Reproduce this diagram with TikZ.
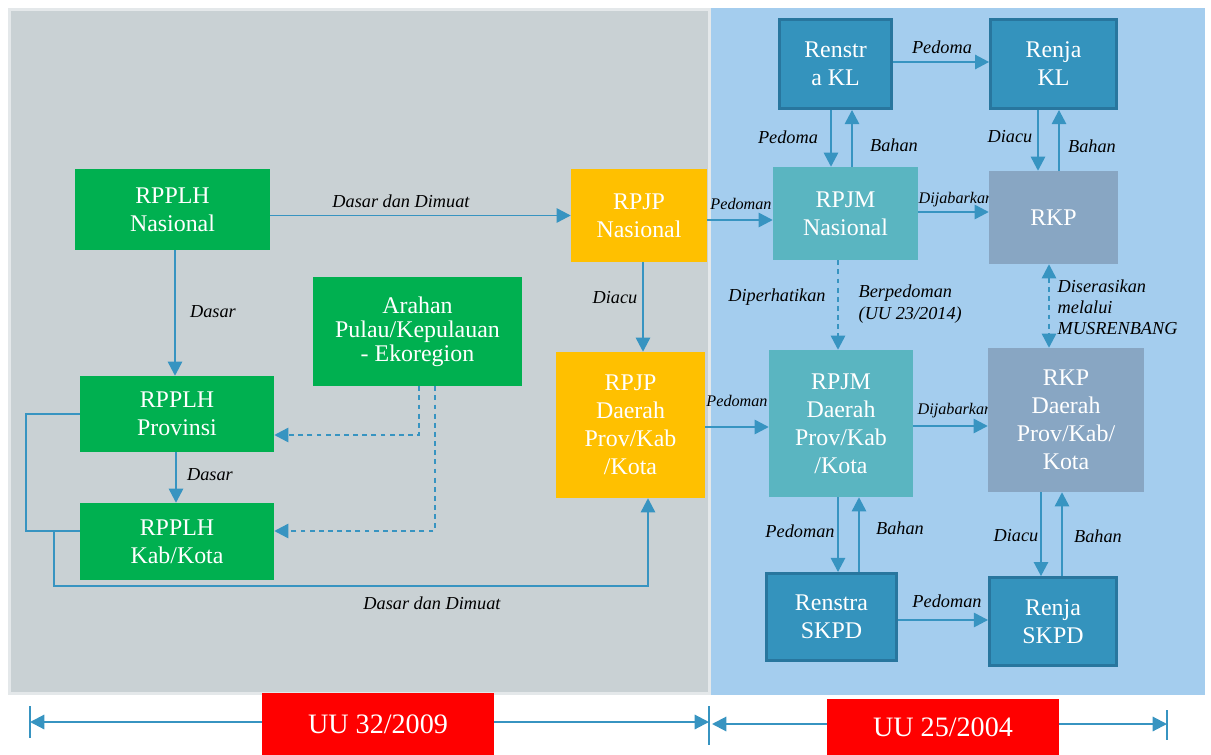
\documentclass[tikz,border=0pt]{standalone}
\usepackage{fontspec}
\setmainfont{Liberation Serif}
\usepackage{xcolor}
\usetikzlibrary{arrows.meta, calc}

\definecolor{panelgray}{RGB}{201,209,212}
\definecolor{panelrim}{RGB}{228,232,234}
\definecolor{panelblue}{RGB}{164,205,238}
\definecolor{hijau}{RGB}{0,176,80}
\definecolor{kuning}{RGB}{255,192,0}
\definecolor{birutua}{RGB}{52,147,189}
\definecolor{birugaris}{RGB}{40,118,158}
\definecolor{tosca}{RGB}{90,181,193}
\definecolor{abubiru}{RGB}{136,166,195}
\definecolor{panah}{RGB}{55,148,193}

\begin{document}
\begin{tikzpicture}[
    x=0.025cm, y=-0.025cm, % 1 unit = 1 px of the sketch
    box/.style={rectangle, inner sep=0pt, align=center, text=white, font=\fontsize{17}{20}\selectfont},
    greenbox/.style={box, fill=hijau},
    yellowbox/.style={box, fill=kuning},
    darkbox/.style={box, fill=birutua, draw=birugaris, line width=2pt},
    tealbox/.style={box, fill=tosca},
    greybox/.style={box, fill=abubiru},
    lawbox/.style={box, fill=red, minimum width=5.8cm, font=\fontsize{20}{24}\selectfont},
    lbl/.style={font=\fontsize{13}{15.5}\selectfont\itshape, inner sep=1pt},
    smalllbl/.style={font=\fontsize{11.5}{14}\selectfont\itshape, inner sep=1pt},
    conn/.style={draw=panah, line width=1pt},
    arr/.style={conn, -{Triangle[length=3.5mm, width=3.6mm]}},
    dconn/.style={arr, dash pattern=on 3.5pt off 3pt},
    lawspan/.style={draw=panah, line width=1.5pt, {Triangle[length=3.6mm, width=3.6mm]}-{Triangle[length=3.6mm, width=3.6mm]}}
]

% --- Panels ---
\fill[white] (0,0) rectangle (1211,755);
\useasboundingbox (0,0) rectangle (1211,755);
\filldraw[fill=panelgray, draw=panelrim, line width=2pt] (9.5,9.5) rectangle (709.5,693.5);
\fill[panelblue] (711,8) rectangle (1205,695);

% --- Labels (under the boxes) ---
\foreach \px/\py/\txt [count=\i] in {401/201/Dasar dan Dimuat, 213/312/Dasar, 210/475/Dasar, 432/603/Dasar dan Dimuat,
    615/298/Diacu, 788/137/Pedoma, 894/145/Bahan, 942/47/Pedoma, 1010/137/Diacu, 1092/146/Bahan,
    777/297/Diperhatikan, 800/531/Pedoman, 900/528/Bahan, 947/601/Pedoman, 1016/536/Diacu, 1098/536/Bahan}
    \node[lbl] (lbl\i) at (\px,\py) {\txt};
\node[smalllbl] (ped1) at (741,204) {Pedoman};
\node[smalllbl] (ped2) at (737,401) {Pedoman};
\node[smalllbl, anchor=west] (jabar1) at (917,200) {Dijabarkan};
\node[smalllbl, anchor=west] (jabar2) at (916,411) {Dijabarkan};
\node[lbl, align=left, anchor=west] (berpedoman) at (857,304) {Berpedoman\\(UU 23/2014)};
\node[lbl, align=left, anchor=west, font=\fontsize{13}{15}\selectfont\itshape] (serasi) at (1056,307) {Diserasikan\\melalui\\MUSRENBANG};

% --- UU 32/2009 side ---
\node[greenbox, minimum width=4.875cm, minimum height=2.025cm] (rpplhnas) at (172.5,209.5) {RPPLH\\Nasional};
\node[greenbox, minimum width=5.225cm, minimum height=2.725cm, font=\fontsize{17}{17}\selectfont] (arahan) at (417.5,331.5) {Arahan\\Pulau/Kepulauan\\- Ekoregion};
\node[greenbox, minimum width=4.85cm, minimum height=1.9cm] (rpplhprov) at (177,414) {RPPLH\\Provinsi};
\node[greenbox, minimum width=4.85cm, minimum height=1.925cm] (rpplhkab) at (177,541.5) {RPPLH\\Kab/Kota};
\node[yellowbox, minimum width=3.4cm, minimum height=2.325cm] (rpjpnas) at (639,215.5) {RPJP\\Nasional};
\node[yellowbox, minimum width=3.725cm, minimum height=3.65cm] (rpjpdae) at (630.5,425) {RPJP\\Daerah\\Prov/Kab\\/Kota};

% --- UU 25/2004 side ---
\node[darkbox, minimum width=2.8cm, minimum height=2.23cm] (renstrakl) at (835.5,64) {Renstr\\a KL};
\node[darkbox, minimum width=3.15cm, minimum height=2.23cm] (renjakl) at (1053.5,64) {Renja\\KL};
\node[tealbox, minimum width=3.625cm, minimum height=2.325cm] (rpjmnas) at (845.5,213.5) {RPJM\\Nasional};
\node[greybox, minimum width=3.225cm, minimum height=2.325cm] (rkp) at (1053.5,217.5) {RKP};
\node[tealbox, minimum width=3.6cm, minimum height=3.675cm] (rpjmdae) at (841,423.5) {RPJM\\Daerah\\Prov/Kab\\/Kota};
\node[greybox, minimum width=3.9cm, minimum height=3.6cm] (rkpdae) at (1066,420) {RKP\\Daerah\\Prov/Kab/\\Kota};
\node[darkbox, minimum width=3.25cm, minimum height=2.18cm] (renstraskpd) at (831.5,617) {Renstra\\SKPD};
\node[darkbox, minimum width=3.18cm, minimum height=2.2cm] (renjaskpd) at (1053,621.5) {Renja\\SKPD};

% --- Connectors, left ---
\draw[arr] (rpplhnas.east |- rpjpnas.west) -- (rpjpnas.west);
\draw[arr] (rpplhnas.south -| 175,0) -- (rpplhprov.north -| 175,0);
\draw[arr] (rpplhprov.south -| 176,0) -- (rpplhkab.north -| 176,0);
\draw[dconn] (arahan.south -| 419,0) |- (rpplhprov.east |- 0,435);
\draw[dconn] (arahan.south -| 435,0) |- (rpplhkab.east |- 0,531);
\draw[conn] (rpplhprov.west) -| (26,531) -- (rpplhkab.west |- 0,531);
\coordinate (cabang) at (54,531);
\draw[arr] (cabang) |- (648,586) -- (rpjpdae.south -| 648,0);
\draw[arr] (rpjpnas.south -| 643,0) -- (rpjpdae.north -| 643,0);

% --- Connectors, right ---
\draw[arr] (rpjpnas.east |- 0,220) -- (rpjmnas.west |- 0,220);
\draw[arr] (rpjpdae.east |- 0,427) -- (rpjmdae.west |- 0,427);
\draw[arr] (rpjmnas.east |- 0,212) -- (rkp.west |- 0,212);
\draw[arr] (rpjmdae.east |- 0,426) -- (rkpdae.west |- 0,426);
\draw[arr] (renstrakl.east |- 0,62) -- (renjakl.west |- 0,62);
\draw[arr] (renstraskpd.east |- 0,620) -- (renjaskpd.west |- 0,620);
\draw[arr] (renstrakl.south -| 831,0) -- (rpjmnas.north -| 831,0);
\draw[arr] (rpjmnas.north -| 852,0) -- (renstrakl.south -| 852,0);
\draw[arr] (renjakl.south -| 1038,0) -- (rkp.north -| 1038,0);
\draw[arr] (rkp.north -| 1059,0) -- (renjakl.south -| 1059,0);
\draw[dconn] (rpjmnas.south -| 838,0) -- (rpjmdae.north -| 838,0);
\draw[dconn, {Triangle[length=3.5mm, width=3.6mm]}-{Triangle[length=3.5mm, width=3.6mm]}] (rkp.south -| 1049,0) -- (rkpdae.north -| 1049,0);
\draw[arr] (rpjmdae.south -| 838,0) -- (renstraskpd.north -| 838,0);
\draw[arr] (renstraskpd.north -| 859,0) -- (rpjmdae.south -| 859,0);
\draw[arr] (rkpdae.south -| 1041,0) -- (renjaskpd.north -| 1041,0);
\draw[arr] (renjaskpd.north -| 1062,0) -- (rkpdae.south -| 1062,0);

% --- Law spans ---
\coordinate (ta) at (30,722);
\coordinate (tb) at (709,722);
\coordinate (tc) at (712,724);
\coordinate (td) at (1167,724);
\draw[lawspan] (ta) -- (tb);
\draw[lawspan] (tc) -- (td);
\draw[panah, line width=0.8pt] (30,706) -- (30,738) (709,706) -- (709,745) (1167,710) -- (1167,740);
\node[lawbox, minimum height=1.55cm] (uu32) at (378,724) {UU 32/2009};
\node[lawbox, minimum height=1.4cm] (uu25) at (943,727) {UU 25/2004};

\end{tikzpicture}
\end{document}
